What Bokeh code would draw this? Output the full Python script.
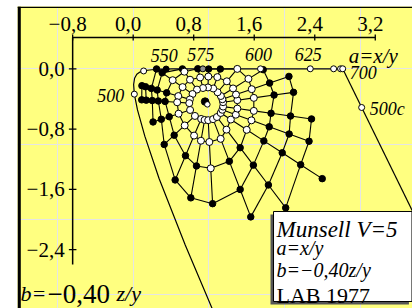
import numpy as np
from bokeh.plotting import figure
from bokeh.models import BoxAnnotation
from bokeh.core.properties import value
from bokeh.embed import file_html
from bokeh.resources import INLINE

# ---- data ---------------------------------------------------------------
# CIE 1931 chromaticities of the spectral locus
wl = [470, 475, 480, 485, 490, 495, 500, 505, 510, 515, 520, 525, 530, 535, 540,
      545, 550, 555, 560, 570, 575, 580, 590, 600, 610, 620, 625, 630, 640, 650,
      660, 675, 680, 700]
wx = [0.1241, 0.1096, 0.0913, 0.0687, 0.0454, 0.0235, 0.0082, 0.0039, 0.0139, 0.0389,
      0.0743, 0.1142, 0.1547, 0.1929, 0.2296, 0.2658, 0.3016, 0.3373, 0.3731, 0.4441,
      0.4788, 0.5125, 0.5752, 0.6270, 0.6658, 0.6915, 0.7006, 0.7079, 0.7190, 0.7260,
      0.7300, 0.7327, 0.7334, 0.7347]
wy = [0.0578, 0.0868, 0.1327, 0.2007, 0.2950, 0.4127, 0.5384, 0.6548, 0.7502, 0.8120,
      0.8338, 0.8262, 0.8059, 0.7816, 0.7543, 0.7243, 0.6923, 0.6589, 0.6245, 0.5547,
      0.5202, 0.4866, 0.4242, 0.3725, 0.3340, 0.3083, 0.2993, 0.2920, 0.2809, 0.2740,
      0.2700, 0.2673, 0.2666, 0.2653]
mark_wl = [500, 525, 550, 575, 600, 625, 650, 675, 700]
mark_fill = ["white", "white", "black", "#909090", "white", "white", "white", "white", "white"]
purple_end_xy = (0.1741, 0.0050)      # 380 nm
c500_ab = (3.02, -0.514)              # complementary 500c on purple line
illum_C = (0.3101, 0.3162)
illum_D65 = (0.3127, 0.3290)

# Munsell V=5 grid: hue direction (deg) and chroma radii (a/b units)
hue_deg = [-162, -137, -113, -100, -87, -69, -53, -33, -20, -8, 8, 19, 32, 50,
           70, 88, 105, 125, 145, 164, 176]
chroma_r = [
    [0.24, 0.40, 0.53, 0.64, 0.755],
    [0.225, 0.41, 0.60, 0.78],
    [0.21, 0.45, 0.74, 1.09],
    [0.21, 0.49, 0.83, 1.26],
    [0.21, 0.50, 0.85, 1.32],
    [0.21, 0.49, 0.81, 1.21, 1.60],
    [0.21, 0.42, 0.72, 1.01, 1.34, 1.72],
    [0.21, 0.37, 0.62, 0.89, 1.18, 1.47, 1.81],
    [0.21, 0.40, 0.62, 0.87, 1.15, 1.43],
    [0.21, 0.40, 0.62, 0.85, 1.11, 1.39],
    [0.21, 0.40, 0.62, 0.89, 1.15],
    [0.21, 0.40, 0.62, 0.87, 1.14],
    [0.21, 0.40, 0.64, 0.87],
    [0.21, 0.40, 0.615],
    [0.225, 0.385, 0.50],
    [0.225, 0.37, 0.47],
    [0.225, 0.37, 0.49],
    [0.24, 0.40, 0.53, 0.575],
    [0.24, 0.40, 0.56, 0.73, 0.82],
    [0.24, 0.40, 0.56, 0.69, 0.77, 0.85, 0.90],
    [0.24, 0.40, 0.56, 0.65, 0.73, 0.81, 0.87],
]
n_in_gamut = [2, 2, 2, 2, 3, 2, 2, 3, 3, 3, 3, 3, 3, 3, 2, 2, 2, 3, 3, 2, 2]

xticks = [-0.8, 0.0, 0.8, 1.6, 2.4, 3.2]
xtick_labels = ["\u22120,8", "0,0", "0,8", "1,6", "2,4", "3,2"]
yticks = [0.0, -0.8, -1.6, -2.4]
ytick_labels = ["0,0", "\u22120,8", "\u22121,6", "\u22122,4"]

# ---- helpers ------------------------------------------------------------
def to_ab(x, y):
    x = np.asarray(x, float); y = np.asarray(y, float)
    return x / y, -0.40 * (1 - x - y) / y

FONT = value("Liberation Serif")
YELLOW = "#ffff80"

X0, X1 = -1.529, 3.692
Y0, Y1 = -3.183, 0.827
p = figure(width=412, height=308, x_range=(X0, X1), y_range=(Y0, Y1),
           output_backend="svg", toolbar_location=None,
           x_axis_location=None, y_axis_location=None,
           min_border_left=17, min_border_right=0, min_border_top=6, min_border_bottom=0)
p.background_fill_color = YELLOW
p.border_fill_color = "white"
p.outline_line_color = None

# frame edges (black left bar, thin top line)
p.add_layout(BoxAnnotation(left=X0, right=X0 + 3.3 / 75.65, fill_color="black",
                           fill_alpha=1, line_color=None))
p.add_layout(BoxAnnotation(bottom=Y1 - 1.5 / 75.3, top=Y1, fill_color="black",
                           fill_alpha=1, line_color=None))

# ---- axes drawn inside the frame ---------------------------------------
AX_B = 0.416     # b of the top axis line
AX_A = -0.8      # a of the left axis line
AX_BOT = -2.60
p.segment(x0=[xticks[0], AX_A], y0=[AX_B, AX_B], x1=[xticks[-1], AX_A], y1=[AX_B, AX_BOT],
          line_color="black", line_width=1.5)
p.segment(x0=xticks, y0=[AX_B - 0.04] * len(xticks), x1=xticks, y1=[AX_B + 0.04] * len(xticks),
          line_color="black", line_width=1.3)
p.segment(x0=[AX_A - 0.05] * len(yticks), y0=yticks, x1=[AX_A + 0.05] * len(yticks), y1=yticks,
          line_color="black", line_width=1.3)
p.text(x=xticks, y=[0.595] * len(xticks), text=xtick_labels, text_font=FONT,
       text_font_size="21px", text_align="center", text_baseline="middle", x_offset=-5)
p.text(x=[AX_A - 0.106] * len(yticks), y=yticks, text=ytick_labels, text_font=FONT,
       text_font_size="21px", text_align="right", text_baseline="middle")

# ---- spectral locus and purple line -----------------------------------
la, lb = to_ab(wx, wy)
p.line(la, lb, line_color="black", line_width=1.2)
i700 = wl.index(700)
pa, pb = to_ab([wx[i700], purple_end_xy[0]], [wy[i700], purple_end_xy[1]])
p.line(pa, pb, line_color="black", line_width=1.2)

# ---- Munsell grid -----------------------------------------------------
Ca, Cb = to_ab([illum_C[0]], [illum_C[1]])
Da, Db = to_ab([illum_D65[0]], [illum_D65[1]])
ca, cb = float(Ca[0]), float(Cb[0])
pts_a, pts_b = [], []
for ang, rs in zip(hue_deg, chroma_r):
    t = np.radians(ang)
    r = np.asarray(rs)
    pts_a.append(ca + r * np.cos(t))
    pts_b.append(cb + r * np.sin(t))

# spokes
p.multi_line(xs=[list(a) for a in pts_a], ys=[list(b) for b in pts_b],
             line_color="black", line_width=1.1)
# rings
rx, ry = [], []
n = len(hue_deg)
for i in range(n):
    j = (i + 1) % n
    for k in range(min(len(pts_a[i]), len(pts_a[j]))):
        rx.append([pts_a[i][k], pts_a[j][k]])
        ry.append([pts_b[i][k], pts_b[j][k]])
p.multi_line(xs=rx, ys=ry, line_color="black", line_width=1.1)

wa, wb, ba, bb = [], [], [], []
for a, b, nin in zip(pts_a, pts_b, n_in_gamut):
    wa += list(a[:nin]); wb += list(b[:nin])
    ba += list(a[nin:]); bb += list(b[nin:])
p.scatter(ba, bb, size=6.5, fill_color="black", line_color="black")
p.scatter(wa, wb, size=7, fill_color="white", line_color="black", line_width=1)

# illuminants
p.scatter(Da, Db, size=7.5, fill_color="black", line_color="black")
p.scatter(Ca, Cb, size=5.5, fill_color="white", line_color="black", line_width=1)

# locus markers
mi = [wl.index(w) for w in mark_wl]
p.scatter([la[i] for i in mi], [lb[i] for i in mi], size=6, fill_color=mark_fill,
          line_color="black", line_width=1)
p.scatter([c500_ab[0]], [c500_ab[1]], size=6, fill_color="white", line_color="black")

# locus labels
def lab(w):
    i = wl.index(w)
    return float(la[i]), float(lb[i])

for w in [550, 575, 600, 625]:
    x, y = lab(w)
    p.text(x=[x], y=[y], text=[str(w)], text_font=FONT, text_font_style="italic",
           text_font_size="18px", text_align="center", text_baseline="middle",
           x_offset=-2, y_offset=-14)
x, y = lab(700)
p.text(x=[x], y=[y], text=["700"], text_font=FONT, text_font_style="italic",
       text_font_size="18px", text_align="left", text_baseline="middle", x_offset=7, y_offset=4)
p.text(x=[x], y=[y], text=["a=x/y"], text_font=FONT, text_font_style="italic",
       text_font_size="21px", text_align="left", text_baseline="middle", x_offset=6, y_offset=-13)
x, y = lab(500)
p.text(x=[x], y=[y], text=["500"], text_font=FONT, text_font_style="italic",
       text_font_size="18px", text_align="right", text_baseline="middle", x_offset=-10, y_offset=1)
p.text(x=[c500_ab[0]], y=[c500_ab[1]], text=["500c"], text_font=FONT, text_font_style="italic",
       text_font_size="18px", text_align="left", text_baseline="middle", x_offset=8, y_offset=2)

# bottom-left formula
FB = -2.985
p.text(x=[-1.490], y=[FB], text=["b="], text_font=FONT, text_font_style="italic",
       text_font_size="22px", text_align="left", text_baseline="alphabetic")
p.text(x=[-1.133], y=[FB], text=["\u22120,40"], text_font=FONT,
       text_font_size="27px", text_align="left", text_baseline="alphabetic")
p.text(x=[-0.221], y=[FB], text=["z/y"], text_font=FONT, text_font_style="italic",
       text_font_size="22px", text_align="left", text_baseline="alphabetic")

# legend box
p.quad(left=[1.815], right=[3.645], top=[-1.935], bottom=[-3.130],
       fill_color="#555555", line_color=None)
p.quad(left=[1.855], right=[3.685], top=[-1.895], bottom=[-3.090],
       fill_color="white", line_color="black", line_width=1)
LX = 1.895
p.text(x=[LX], y=[-2.137], text=["Munsell  V=5"], text_font=FONT, text_font_style="italic",
       text_font_size="23px", text_align="left", text_baseline="alphabetic")
p.text(x=[LX], y=[-2.380], text=["a=x/y"], text_font=FONT, text_font_style="italic",
       text_font_size="20px", text_align="left", text_baseline="alphabetic")
p.text(x=[LX], y=[-2.678], text=["b=\u22120,40z/y"], text_font=FONT, text_font_style="italic",
       text_font_size="20px", text_align="left", text_baseline="alphabetic")
p.text(x=[LX], y=[-3.005], text=["LAB 1977"], text_font=FONT,
       text_font_size="22px", text_align="left", text_baseline="alphabetic")

open("out.html", "w").write(file_html(p, INLINE))
